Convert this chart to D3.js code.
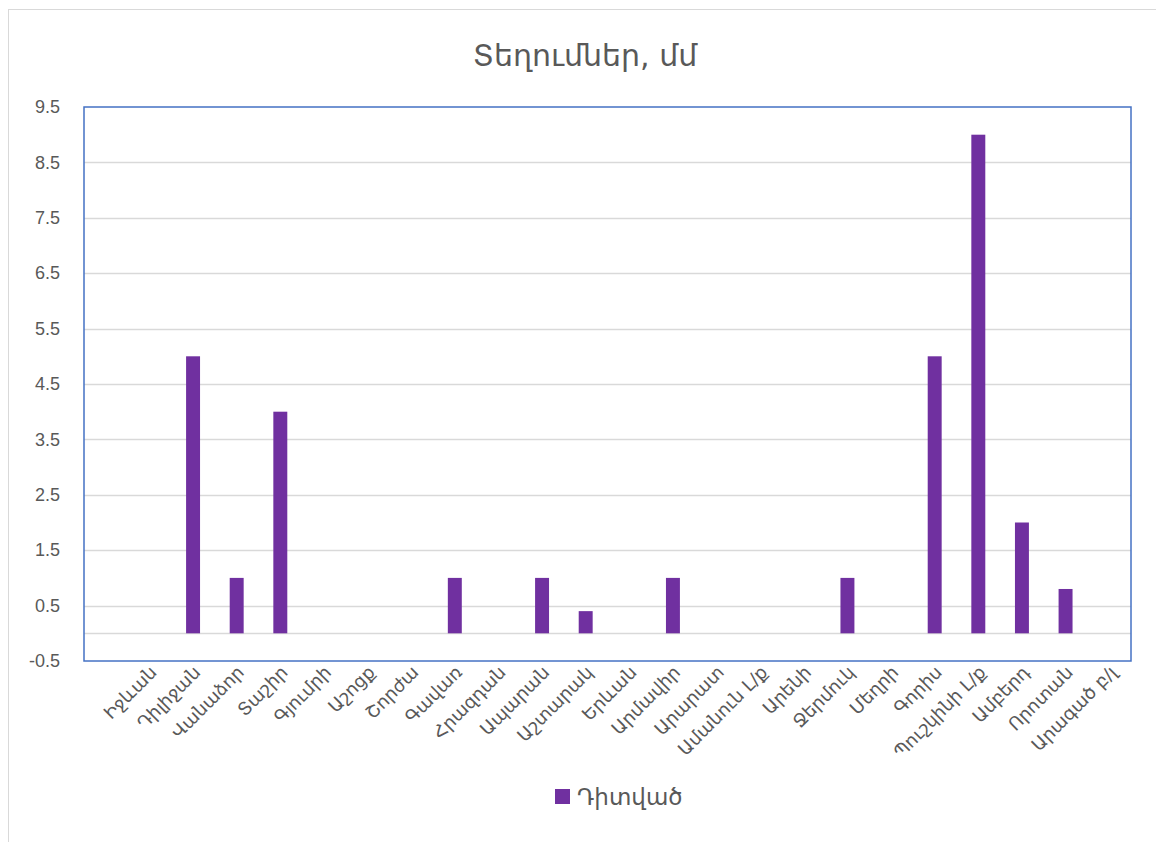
<!DOCTYPE html>
<html><head><meta charset="utf-8">
<script src="https://cdn.jsdelivr.net/npm/d3@7"></script>
<style>body{margin:0;background:#fff}</style>
</head><body>
<svg id="c" width="1156" height="842"></svg>
<script>
const categories = ["", "Իջևան","Դիլիջան","Վանաձոր","Տաշիր","Գյումրի","Աշոցք","Շորժա","Գավառ","Հրազդան","Ապարան","Աշտարակ","Երևան","Արմավիր","Արարատ","Ամանուն Լ/ք","Արենի","Ջերմուկ","Մեղրի","Գորիս","Պուշկինի Լ/ք","Ամբերդ","Որոտան","Արագած բ/լ"];
const values = [null, 0, 5, 1, 4, 0, 0, 0, 1, 0, 1, 0.4, 0, 1, 0, 0, 0, 1, 0, 5, 9, 2, 0.8, 0];
const yTicks = [-0.5, 0.5, 1.5, 2.5, 3.5, 4.5, 5.5, 6.5, 7.5, 8.5, 9.5];
const seriesName = "Դիտված";
const title = "Տեղումներ, մմ";

const svg = d3.select("#c");
const font = "'DejaVu Sans', 'Noto Sans', sans-serif";
const txt = "#595959";
const L = 84, R = 1131, T = 107, B = 661;

svg.append("rect").attr("x", 8.5).attr("y", 9.5).attr("width", 1160).attr("height", 840)
  .attr("fill", "none").attr("stroke", "#d9d9d9").attr("stroke-width", 1);

const x = d3.scaleBand().domain(categories.map((d, i) => i)).range([L, R]).paddingInner(0.68).paddingOuter(0.34);
const y = d3.scaleLinear().domain([-0.5, 9.5]).range([B, T]);

// gridlines
svg.append("g").selectAll("line").data(yTicks.slice(1, -1).concat([0])).join("line")
  .attr("x1", L).attr("x2", R).attr("y1", d => Math.round(y(d)) + 0.5).attr("y2", d => Math.round(y(d)) + 0.5)
  .attr("stroke", "#d9d9d9").attr("stroke-width", 1.5);

// bars
svg.append("g").selectAll("rect").data(values.map((v, i) => ({v, i})).filter(d => d.v)).join("rect")
  .attr("x", d => x(d.i)).attr("width", x.bandwidth())
  .attr("y", d => y(Math.max(0, d.v))).attr("height", d => Math.abs(y(d.v) - y(0)))
  .attr("fill", "#7030A0");

// plot border
svg.append("rect").attr("x", L).attr("y", T).attr("width", R - L).attr("height", B - T)
  .attr("fill", "none").attr("stroke", "#4472C4").attr("stroke-width", 1.5);

// y axis labels
const ya = d3.axisLeft(y).tickValues(yTicks).tickSize(0).tickPadding(0).tickFormat(d => d3.format(".1f")(d).replace("−", "-"));
const gy = svg.append("g").attr("transform", `translate(${L - 24},0)`).call(ya);
gy.select(".domain").remove();
gy.selectAll("text").attr("font-family", "'Liberation Sans', Arial, sans-serif").attr("font-size", 18).attr("fill", txt);

// x labels
svg.append("g").selectAll("text").data(categories.map((c, i) => ({c, i})).filter(d => d.c)).join("text")
  .attr("transform", d => `translate(${x(d.i) + x.bandwidth() / 2 + 4},${B + 8}) rotate(-45)`)
  .attr("text-anchor", "end").attr("dy", "0.35em")
  .attr("font-family", font).attr("font-size", 18).attr("fill", txt).text(d => d.c);

// title
svg.append("text").attr("x", 585).attr("y", 66).attr("text-anchor", "middle")
  .attr("font-family", font).attr("font-size", 30).attr("fill", txt).text(title);

// legend
svg.append("rect").attr("x", 555).attr("y", 789).attr("width", 15).attr("height", 15).attr("fill", "#7030A0");
svg.append("text").attr("x", 577).attr("y", 805).attr("font-family", font).attr("font-size", 23).attr("fill", txt).text(seriesName);
</script>
</body></html>
